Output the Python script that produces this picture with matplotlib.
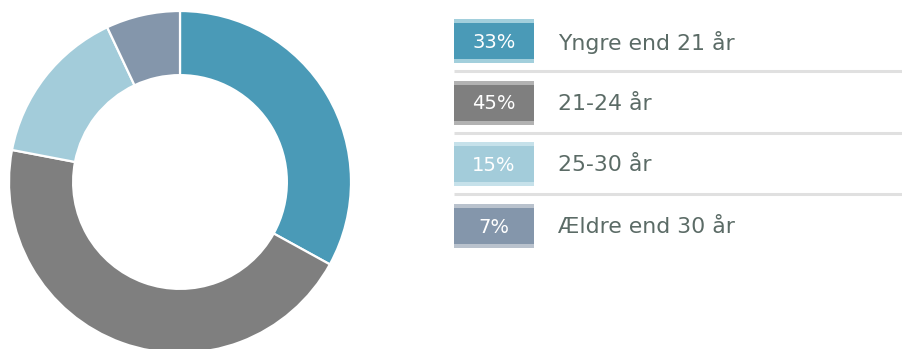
import matplotlib.pyplot as plt
from matplotlib.patches import Rectangle

# age groups and shares (%)
labels = ['Yngre end 21 år', '21-24 år', '25-30 år', 'Ældre end 30 år']
shares = [33, 45, 15, 7]
colors = ['#4a9ab7', '#7f7f7f', '#a3ccda', '#8496ab']
stripe_colors = ['#a2cfdc', '#b2b2b2', '#c6e1ea', '#b9c2cd']

W, H = 903, 349
fig = plt.figure(figsize=(W / 100, H / 100), dpi=100)

#-------------------------------------------------------------------------------
# DONUT
#-------------------------------------------------------------------------------
ax_pie = fig.add_axes([9 / W, -4 / H, 342 / W, 342 / H])
ax_pie.pie(
    shares, colors=colors, startangle=90, counterclock=False, radius=1.0,
    wedgeprops=dict(width=0.375, edgecolor='white', linewidth=1.6),
)
ax_pie.set_xlim(-1, 1)
ax_pie.set_ylim(-1, 1)
ax_pie.set_aspect('equal')
ax_pie.set_axis_off()

#-------------------------------------------------------------------------------
# LEGEND (pixel coords)
#-------------------------------------------------------------------------------
ax = fig.add_axes([0, 0, 1, 1])
ax.set_xlim(0, W)
ax.set_ylim(H, 0)
ax.set_axis_off()

row0, step = 19, 61.7
box_x, box_w, box_h, stripe = 454, 80, 44, 4
text_col = '#5b6b66'

for i, (lab, val) in enumerate(zip(labels, shares)):
    y = row0 + i * step
    ax.add_patch(Rectangle((box_x, y), box_w, box_h, color=stripe_colors[i], lw=0))
    ax.add_patch(Rectangle((box_x, y + stripe), box_w, box_h - 2 * stripe, color=colors[i], lw=0))
    ax.text(box_x + box_w / 2, y + box_h / 2 + 1, f'{val}%', ha='center', va='center',
            color='white', fontsize=14)
    ax.text(558, y + box_h / 2 + 1, lab, ha='left', va='center', color=text_col, fontsize=15.8)
    if i < len(labels) - 1:
        ax.plot([box_x, W], [y + 52, y + 52], color='#e0e0e0', lw=2.2, solid_capstyle='butt')

fig.savefig('out.png', dpi=100)
